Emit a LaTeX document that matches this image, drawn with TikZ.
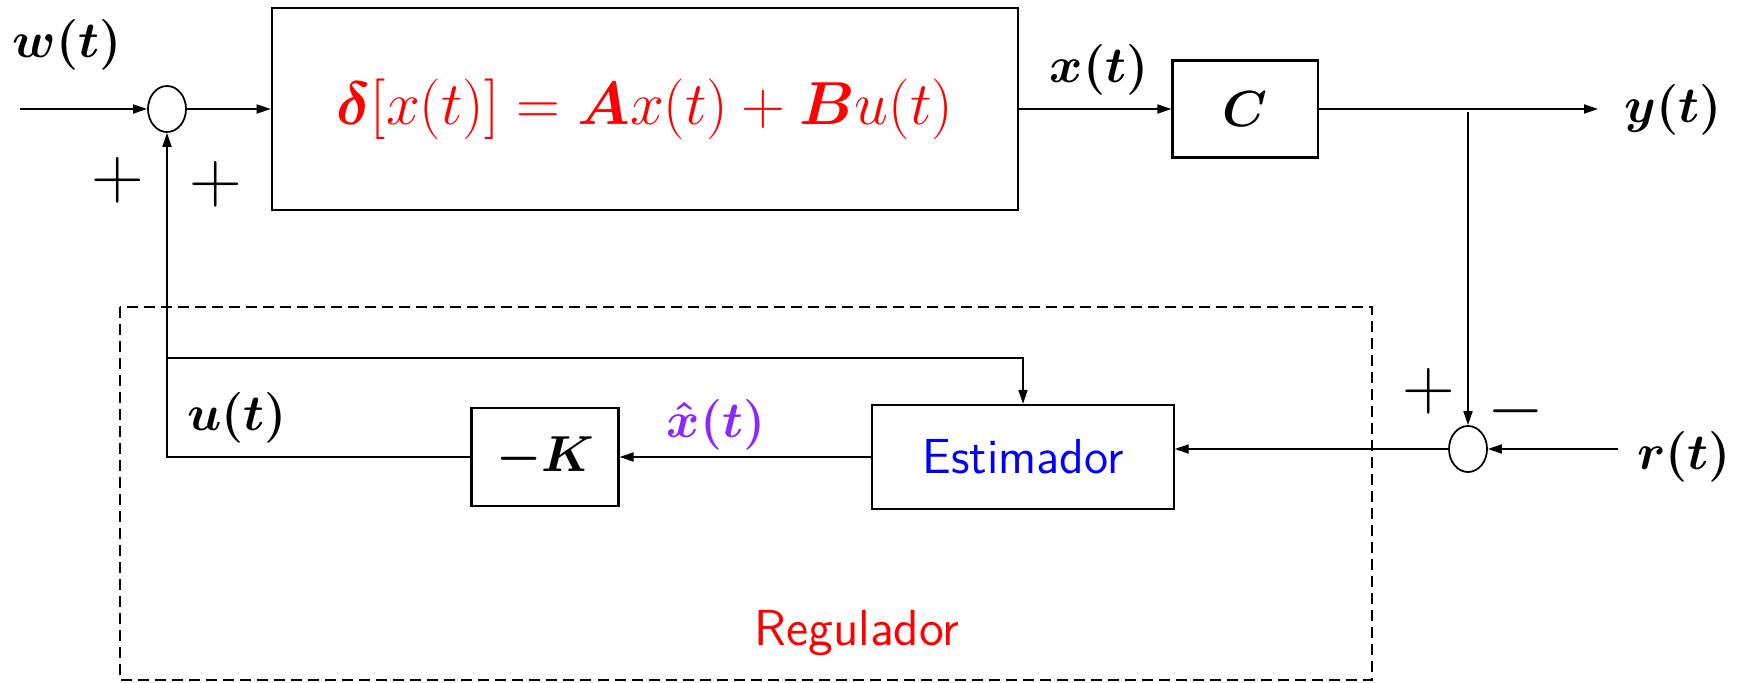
\documentclass[tikz,border=0pt]{standalone}
\usepackage{amsmath,bm}
\usetikzlibrary{arrows.meta,shapes.geometric}
\definecolor{hatpurple}{RGB}{140,40,255}
\tikzset{
  blk/.style={draw=black,line width=0.6pt,inner sep=0pt},        % block
  sumj/.style={ellipse,draw=black,line width=0.5pt,minimum width=0.38cm,minimum height=0.46cm,inner sep=0pt},
  sig/.style={-{Triangle[length=1.4mm,width=0.9mm]},line width=0.5pt},
  wire/.style={line width=0.5pt},
  lbl/.style={font=\fontsize{14}{17}\selectfont,inner sep=1pt},
  sgn/.style={font=\fontsize{20}{23}\selectfont,inner sep=0pt},
  regbox/.style={dash pattern=on 1.1mm off 0.6mm,line width=0.5pt},
}

\begin{document}
\begin{tikzpicture}[x=0.01cm,y=-0.01cm]
  \useasboundingbox (0,0) rectangle (1740,682);
  % forward path
  \coordinate (win) at (20,109);
  \node[sumj] (s1) at (167,109) {};
  \node[blk,minimum width=7.46cm,minimum height=2.02cm,font=\fontsize{17.3}{20}\selectfont,text=red] (plant) at (645,109)
    {$\bm{\delta}[x(t)]=\bm{A}x(t)+\bm{B}u(t)$};
  \node[blk,minimum width=1.45cm,minimum height=0.97cm,font=\fontsize{14}{17}\selectfont] (cc) at (1245,109) {$\bm{C}$};
  \coordinate (yout) at (1598,109);
  \coordinate (br) at (1468,112);
  \draw[sig] (win) -- (s1);
  \draw[sig] (s1) -- (plant);
  \draw[sig] (plant) -- (cc);
  \draw[sig] (cc) -- (yout);
  % regulator
  \draw[regbox] (120,307) rectangle (1372,680);
  \node[sumj] (s2) at (1468,449) {};
  \coordinate (rin) at (1618,449);
  \node[blk,minimum width=3.01cm,minimum height=1.04cm,text=blue,font=\fontsize{14}{17}\sffamily] (est) at (1023,457) {Estimador};
  \node[blk,minimum width=1.47cm,minimum height=0.98cm,font=\fontsize{14}{17}\selectfont] (gain) at (545,457) {$\bm{-K}$};
  \coordinate (ut) at (167,457);
  \coordinate (uc) at (167,358);
  \coordinate (ec) at (1023,358);
  \draw[sig] (br) -- (s2);
  \draw[sig] (rin) -- (s2);
  \draw[sig] (s2.west) -- (s2.west -| est.east);
  \draw[sig] (est) -- (gain);
  \draw[sig] (gain) -- (ut) -- (s1);
  \draw[sig] (uc) -- (ec) -- (est);
  % labels
  \node[lbl] (wl) at (67,45) {$\bm{w(t)}$};
  \node[lbl] (xl) at (1099,70) {$\bm{x(t)}$};
  \node[lbl] (yl) at (1673,110) {$\bm{y(t)}$};
  \node[lbl] (ul) at (237,418) {$\bm{u(t)}$};
  \node[lbl,text=hatpurple] (xhl) at (716,425) {$\bm{\hat{x}(t)}$};
  \node[lbl] (rl) at (1684,457) {$\bm{r(t)}$};
  \node[sgn] (p1) at (118,180) {$+$};
  \node[sgn] (p2) at (216,184) {$+$};
  \node[sgn] (p3) at (1429,391) {$+$};
  \node[sgn] (m1) at (1516,411) {$-$};
  \node[text=red,font=\fontsize{14.4}{17}\sffamily] (regl) at (857,633) {Regulador};
\end{tikzpicture}
\end{document}
